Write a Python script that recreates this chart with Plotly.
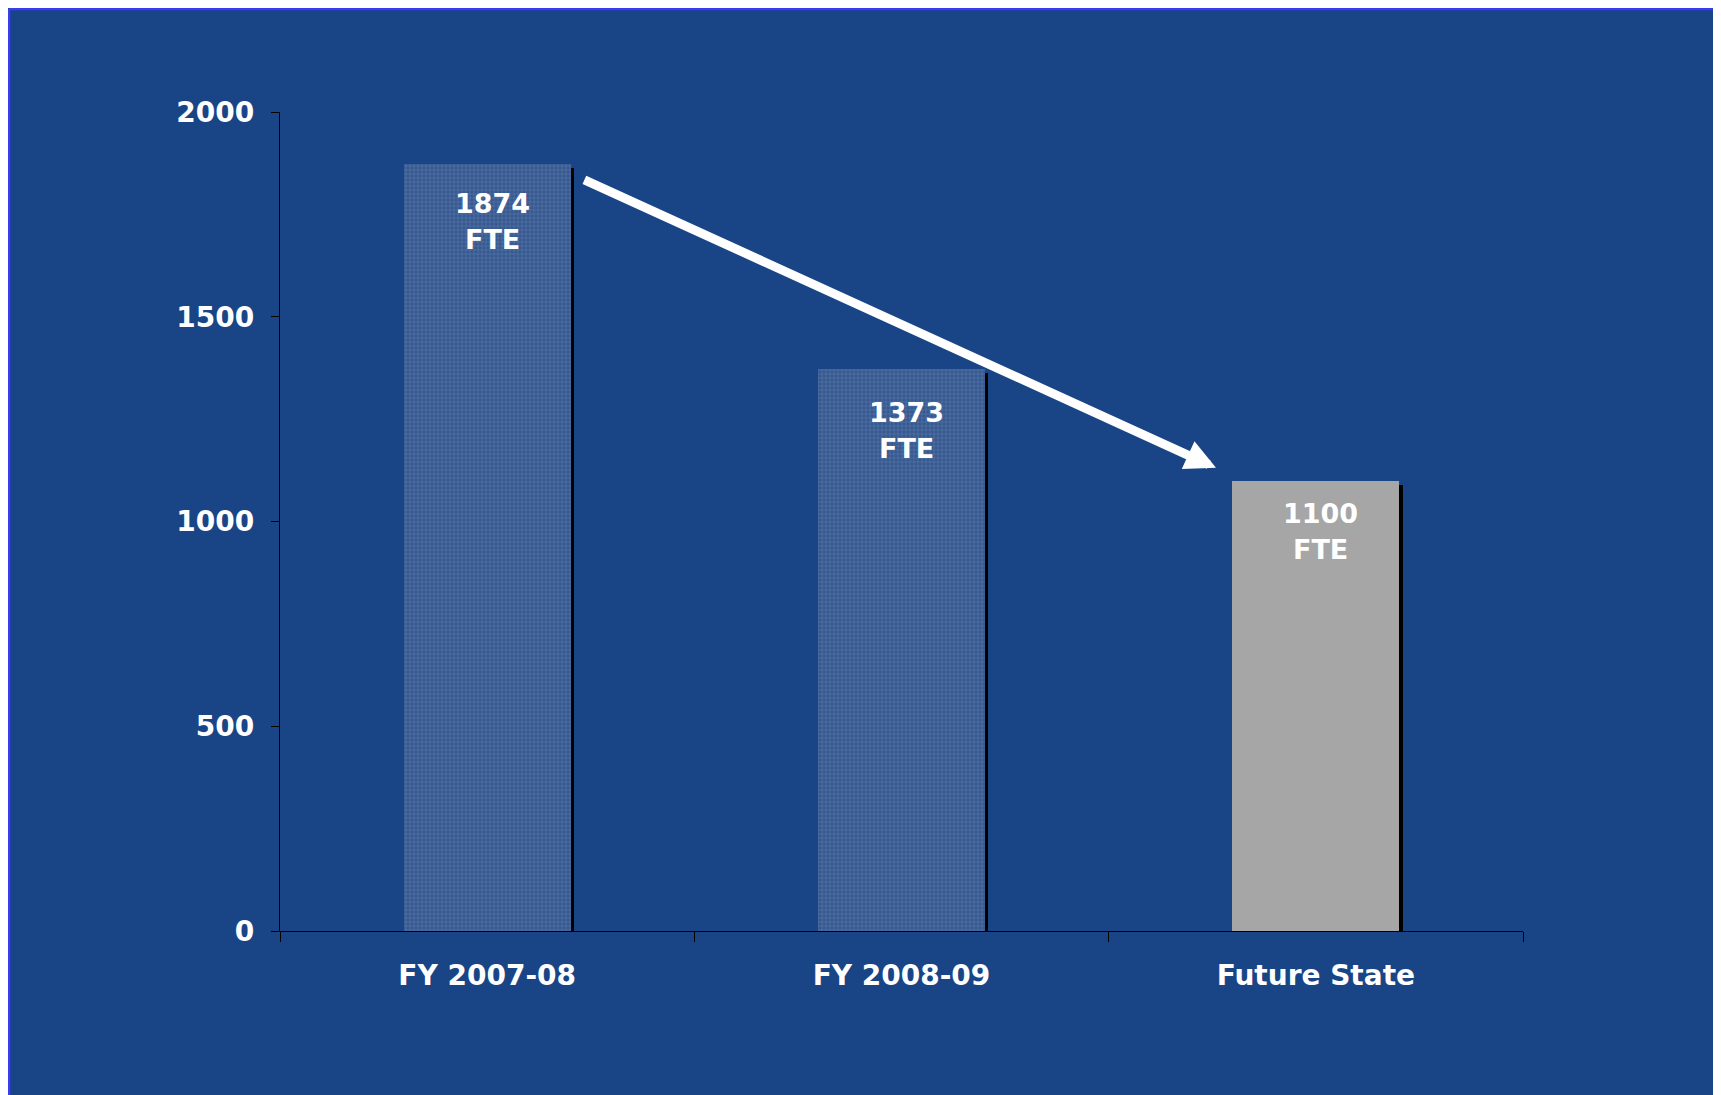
import plotly.graph_objects as go

categories = ["FY 2007-08", "FY 2008-09", "Future State"]
fte_values = [1874, 1373, 1100]
value_labels = ["1874", "1373", "1100"]
unit_label = "FTE"
y_ticks = [0, 500, 1000, 1500, 2000]

BG = "#194587"
BORDER = "#3b3bf5"
W, H = 1713, 1087
ML, MR, MT, MB = 272, 198, 104, 164
PW, PH = W - ML - MR, H - MT - MB
FONT = "DejaVu Sans"

px_per_unit_y = PH / 2000.0
px_per_cat = PW / 3.0

bar_w = 0.403
shadow_dx = 3.5 / px_per_cat
shadow_dy = 4 / px_per_unit_y
label_yshift = [-40, -44, -33]

fig = go.Figure()

# shadow bars
fig.add_trace(go.Bar(
    x=categories, y=[v - shadow_dy for v in fte_values],
    width=bar_w, offset=-bar_w / 2 + shadow_dx,
    marker=dict(color="#000000", line=dict(width=0)),
    hoverinfo="skip", showlegend=False,
))

# main bars
fig.add_trace(go.Bar(
    x=categories[:2], y=fte_values[:2],
    width=bar_w, offset=-bar_w / 2,
    marker=dict(color="#37598f", line=dict(width=0),
                pattern=dict(shape="+", fgcolor="#5979ad", bgcolor="#37598f",
                             size=4, solidity=0.25, fillmode="replace")),
    showlegend=False,
))
fig.add_trace(go.Bar(
    x=categories[2:], y=fte_values[2:],
    width=bar_w, offset=-bar_w / 2,
    marker=dict(color="#a6a6a6", line=dict(width=0)),
    showlegend=False,
))

for i, v in enumerate(fte_values):
    fig.add_annotation(x=categories[i], y=v, text=value_labels[i], showarrow=False,
                       xshift=5, yshift=label_yshift[i], yanchor="middle",
                       font=dict(family=FONT, size=27, color="white", weight="bold"))
    fig.add_annotation(x=categories[i], y=v, text=unit_label, showarrow=False,
                       xshift=5, yshift=label_yshift[i] - 36, yanchor="middle",
                       font=dict(family=FONT, size=27, color="white", weight="bold"))

# trend arrow
fig.add_annotation(x=1.759, y=1131, ax=0.231, ay=1836, xref="x", yref="y",
                   axref="x", ayref="y", text="", showarrow=True,
                   arrowhead=2, arrowsize=0.68, arrowwidth=9, arrowcolor="white",
                   standoff=0, startstandoff=0)

# border lines at figure left/top edge
fig.add_shape(type="line", xref="paper", yref="paper",
              x0=(1 - ML) / PW, x1=(W - ML) / PW,
              y0=1 + (MT - 1) / PH, y1=1 + (MT - 1) / PH,
              line=dict(color=BORDER, width=2.5))
fig.add_shape(type="line", xref="paper", yref="paper",
              x0=(1 - ML) / PW, x1=(1 - ML) / PW,
              y0=-MB / PH, y1=1 + (MT - 1) / PH,
              line=dict(color=BORDER, width=2.5))

fig.update_layout(
    width=W, height=H,
    margin=dict(l=ML, r=MR, t=MT, b=MB, pad=0),
    paper_bgcolor=BG, plot_bgcolor=BG,
    barmode="overlay", bargap=0,
    showlegend=False,
    font=dict(family=FONT, color="white"),
)
fig.update_xaxes(
    type="category", range=[-0.5, 2.5], tickson="boundaries",
    showgrid=False, zeroline=False, showline=True, linecolor="black", linewidth=1.3,
    ticks="outside", ticklen=10, tickcolor="black", tickwidth=1.3,
    tickfont=dict(family=FONT, size=28, color="white", weight="bold"),
    ticklabelstandoff=19,
)
fig.update_yaxes(
    range=[0, 2000], tickmode="array", tickvals=y_ticks,
    showgrid=False, zeroline=False, showline=True, linecolor="black", linewidth=1.3,
    ticks="outside", ticklen=8, tickcolor="black", tickwidth=1.3,
    tickfont=dict(family=FONT, size=28, color="white", weight="bold"),
    ticklabelstandoff=11,
)

fig.write_html("out.html")
